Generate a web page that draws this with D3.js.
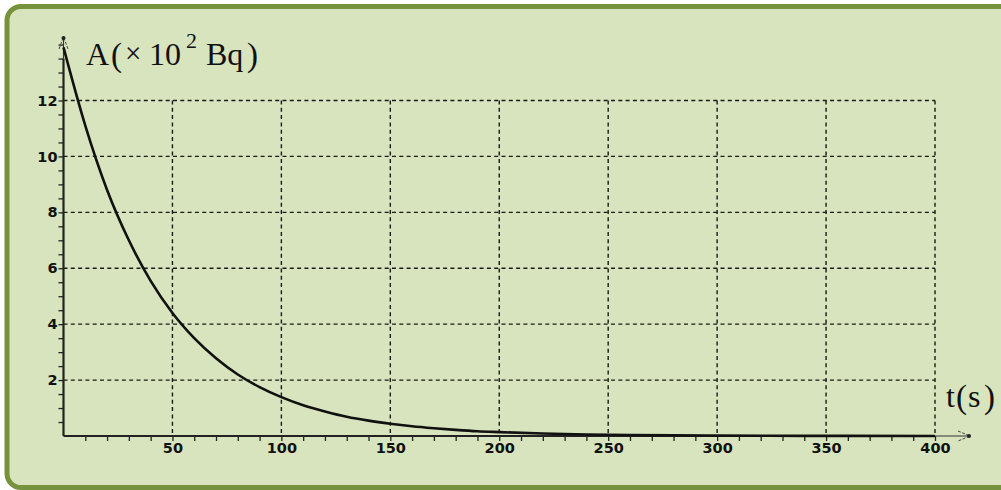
<!DOCTYPE html>
<html><head><meta charset="utf-8">
<script src="https://cdn.jsdelivr.net/npm/d3@7"></script>
<style>html,body{margin:0;padding:0;background:#fff;overflow:hidden}</style>
</head><body><svg id="c" width="1001" height="490"></svg>
<script>
const times = [0,10,20,30,40,50,60,70,80,90,100,110,120,130,140,150,160,170,180,190,200,220,240,260,280,300,340,360,400];
const activity = [13.9,11.1,8.8,7.0,5.55,4.4,3.5,2.78,2.2,1.75,1.39,1.1,0.88,0.69,0.55,0.44,0.35,0.28,0.22,0.17,0.14,0.09,0.055,0.035,0.022,0.014,0.006,0.003,0.001];
const xTicks = [50,100,150,200,250,300,350,400];
const yTicks = [2,4,6,8,10,12];
const xMinor = d3.range(10,401,10);
const yMinor = d3.range(0.5,14.01,0.5);

const svg = d3.select("#c");
// frame
svg.append("rect").attr("x",7).attr("y",6.5).attr("width",1010).attr("height",481)
  .attr("rx",14).attr("fill","#d7e4bd").attr("stroke","#76923c").attr("stroke-width",5);

const x = d3.scaleLinear().domain([0,400]).range([63.5,935]);
const y = d3.scaleLinear().domain([0,12]).range([436,100.5]);

const g = svg.append("g");
// grid
g.selectAll(".gh").data(yTicks).join("line")
  .attr("x1",x(0)).attr("x2",x(400)).attr("y1",d=>y(d)).attr("y2",d=>y(d))
  .attr("stroke","#1a1a1a").attr("stroke-width",1.4).attr("stroke-dasharray","4,3.3");
g.selectAll(".gv").data(xTicks).join("line")
  .attr("x1",d=>x(d)).attr("x2",d=>x(d)).attr("y1",y(12)).attr("y2",y(0))
  .attr("stroke","#1a1a1a").attr("stroke-width",1.4).attr("stroke-dasharray","4,3.3");

// axes with d3
const xAxis = d3.axisBottom(x).tickValues(xMinor).tickSize(5).tickFormat("");
const gx = g.append("g").attr("transform",`translate(0,${y(0)})`).call(xAxis);
gx.select(".domain").remove();
gx.selectAll("line").attr("stroke","#222").attr("stroke-width",1.3);
const xLab = d3.axisBottom(x).tickValues(xTicks).tickSize(0).tickPadding(7);
const gxl = g.append("g").attr("transform",`translate(0,${y(0)})`).call(xLab);
gxl.select(".domain").remove();
gxl.selectAll("text").attr("font-family","DejaVu Sans").attr("font-weight","bold").attr("font-size",14.5).attr("fill","#111");

const yAxis = d3.axisLeft(y).tickValues(yMinor).tickSize(5).tickFormat("");
const gy = g.append("g").attr("transform",`translate(${x(0)},0)`).call(yAxis);
gy.select(".domain").remove();
gy.selectAll("line").attr("stroke","#222").attr("stroke-width",1.3);
const yLab = d3.axisLeft(y).tickValues(yTicks).tickSize(0).tickPadding(6);
const gyl = g.append("g").attr("transform",`translate(${x(0)},0)`).call(yLab);
gyl.select(".domain").remove();
gyl.selectAll("text").attr("font-family","DejaVu Sans").attr("font-weight","bold").attr("font-size",14.5).attr("fill","#111");

// axis lines
g.append("line").attr("x1",x(0)).attr("x2",x(400)).attr("y1",y(0)).attr("y2",y(0)).attr("stroke","#222").attr("stroke-width",2.2);
g.append("line").attr("x1",x(400)).attr("x2",970).attr("y1",y(0)).attr("y2",y(0)).attr("stroke","#333").attr("stroke-width",1.1);
g.append("line").attr("x1",x(0)).attr("x2",x(0)).attr("y1",y(0)).attr("y2",y(13.5)).attr("stroke","#222").attr("stroke-width",2.2);
g.append("line").attr("x1",x(0)).attr("x2",x(0)).attr("y1",y(13.5)).attr("y2",37).attr("stroke","#333").attr("stroke-width",1.1);
// arrowheads
g.append("path").attr("d",`M${x(0)-4.5},49 L${x(0)},37 L${x(0)+4.5},49`).attr("fill","none").attr("stroke","#444").attr("stroke-width",1).attr("stroke-dasharray","3,1.5");
g.append("circle").attr("cx",x(0)).attr("cy",38).attr("r",2).attr("fill","#222");
g.append("path").attr("d",`M958,${y(0)-5} L970,${y(0)} L958,${y(0)+5}`).attr("fill","none").attr("stroke","#444").attr("stroke-width",1).attr("stroke-dasharray","3,1.5");
g.append("circle").attr("cx",969).attr("cy",y(0)).attr("r",2).attr("fill","#222");

// curve
const pts = times.map((t,i)=>[t,activity[i]]);
g.append("path").datum(pts)
  .attr("d",d3.line().x(d=>x(d[0])).y(d=>y(d[1])).curve(d3.curveMonotoneX))
  .attr("fill","none").attr("stroke","#111").attr("stroke-width",2.6);

// titles
const serif = "Liberation Serif";
const tt = svg.append("g").attr("font-family",serif).attr("fill","#111");
tt.append("text").attr("x",86).attr("y",65).attr("font-size",32).text("A");
tt.append("text").attr("x",111).attr("y",66).attr("font-size",33).text("(");
tt.append("text").attr("x",125).attr("y",63).attr("font-size",29).text("×");
tt.append("text").attr("x",149).attr("y",65).attr("font-size",32).text("10");
tt.append("text").attr("x",186).attr("y",48).attr("font-size",22).text("2");
tt.append("text").attr("x",206).attr("y",65).attr("font-size",32).text("Bq");
tt.append("text").attr("x",247).attr("y",66).attr("font-size",33).text(")");

tt.append("text").attr("x",946).attr("y",407).attr("font-size",32).text("t");
tt.append("text").attr("x",956).attr("y",408).attr("font-size",33).text("(");
tt.append("text").attr("x",968).attr("y",407).attr("font-size",32).text("s");
tt.append("text").attr("x",984).attr("y",408).attr("font-size",33).text(")");
</script></body></html>
